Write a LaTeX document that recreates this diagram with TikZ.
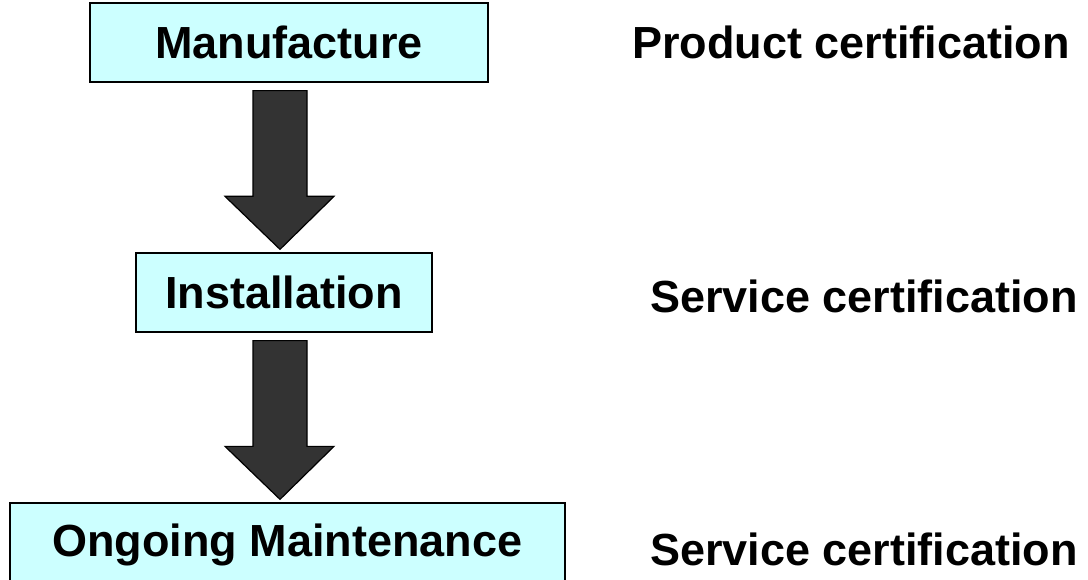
\documentclass[tikz,border=0pt]{standalone}
\usepackage{fontspec}
\setmainfont{Liberation Sans}
\usetikzlibrary{calc}

% block arrow pointing down, from top coordinate #1 to tip #2
\newcommand{\bigdownarrow}[2]{%
  \draw[blockarrow] ($(#1)+(-27,0)$) -- ($(#1)+(27,0)$) -- ($(#2)+(27,-53)$)
    -- ($(#2)+(54,-53)$) -- (#2) -- ($(#2)+(-55,-53)$) -- ($(#2)+(-27,-53)$) -- cycle;}

\begin{document}
\begin{tikzpicture}
		[x=1pt,y=-1pt,
		every node/.style={font=\fontsize{45}{54}\selectfont\bfseries,inner sep=0pt},
		stagebox/.style={draw=black,line width=1.3pt,fill=stagecyan},
		certlabel/.style={anchor=west},
		blockarrow/.style={draw=black,line width=1.2pt,fill=arrowgray,line join=miter}]
		\definecolor{stagecyan}{HTML}{CCFFFF}
		\definecolor{arrowgray}{HTML}{333333}
		\useasboundingbox (0,0) rectangle (1088,580);
		% stages
		\node[stagebox,minimum width=398pt,minimum height=79pt] (manufacture) at (289,42.5) {Manufacture};
		\node[stagebox,minimum width=296pt,minimum height=79pt] (installation) at (284,292.5) {Installation};
		\node[stagebox,minimum width=555pt,minimum height=84pt] (maintenance) at (287.5,545) {Ongoing Maintenance};
		% certifications
		\node[certlabel] (productcert) at (632,42) {Product certification};
		\node[certlabel] (servicecertA) at (650,296) {Service certification};
		\node[certlabel] (servicecertB) at (650,549) {Service certification};
		% arrows between stages
		\coordinate (arrowAtop) at ($(manufacture.south)+(-9,8)$);
		\coordinate (arrowAtip) at ($(installation.north)+(-4,-3)$);
		\coordinate (arrowBtop) at ($(installation.south)+(-4,8)$);
		\coordinate (arrowBtip) at ($(maintenance.north)+(-7.5,-3)$);
		\bigdownarrow{arrowAtop}{arrowAtip}
		\bigdownarrow{arrowBtop}{arrowBtip}
	\end{tikzpicture}
\end{document}
